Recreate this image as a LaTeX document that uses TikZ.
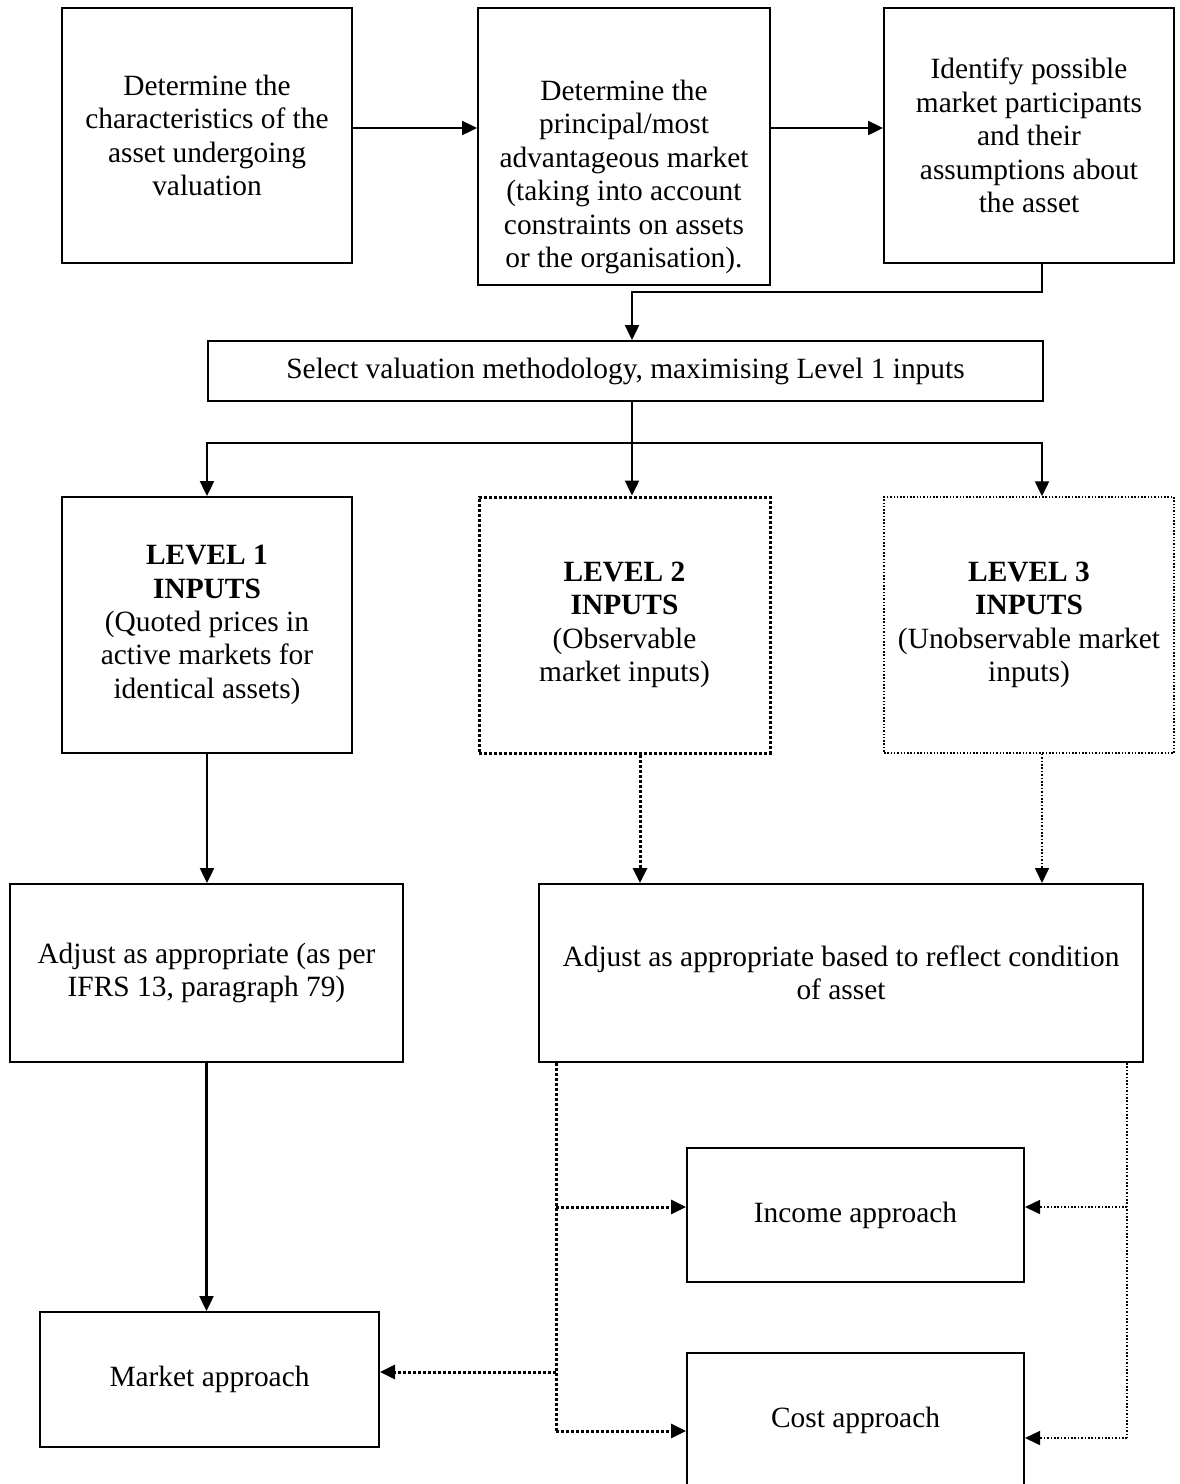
\documentclass[tikz,border=0pt]{standalone}
\usepackage{fontspec}
\setmainfont{Liberation Serif}
\usetikzlibrary{arrows.meta,positioning}

\begin{document}
\begin{tikzpicture}[x=0.5pt,y=-0.5pt,>={Triangle[length=7.5pt,width=7pt]},
txt/.style={align=center, inner sep=0pt, font=\fontsize{14.7}{16.7}\selectfont},
box/.style={txt, draw, line width=1pt},
dotbox/.style={box, line width=1.5pt, dash pattern=on 1.5pt off 1pt},
thinbox/.style={box, line width=0.75pt, dash pattern=on 0.75pt off 0.9pt},
line/.style={line width=1.2pt},
dotline/.style={line width=1.5pt, dash pattern=on 1.5pt off 1pt},
thinline/.style={line width=0.8pt, dash pattern=on 0.8pt off 0.9pt}]
\useasboundingbox (0,0) rectangle (1179,1484);

\node[box, minimum width=145pt, minimum height=127.5pt] (s1) at (207,135.5) {Determine the\\characteristics of the\\asset undergoing\\valuation};
\node[box, minimum width=146pt, minimum height=138.5pt] (s2) at (624,146.5) {};
\node[txt] (s2t) at (624,177) {Determine the\\principal/most\\advantageous market\\(taking into account\\constraints on assets\\or the organisation).};
\node[box, minimum width=145pt, minimum height=127.5pt] (s3) at (1029,135.5) {Identify possible\\market participants\\and their\\assumptions about\\the asset};
\node[box, minimum width=417.5pt, minimum height=30pt] (s4) at (625.5,371) {Select valuation methodology, maximising Level 1 inputs};
\node[box, minimum width=145pt, minimum height=128pt] (s5) at (207,625) {\textbf{LEVEL 1}\\\textbf{INPUTS}\\(Quoted prices in\\active markets for\\identical assets)};
\node[dotbox, minimum width=145.5pt, minimum height=128pt] (s6) at (624.5,625) {\textbf{LEVEL 2}\\\textbf{INPUTS}\\(Observable\\market inputs)};
\node[thinbox, minimum width=145pt, minimum height=128pt] (s7) at (1029,625) {\textbf{LEVEL 3}\\\textbf{INPUTS}\\(Unobservable market\\inputs)};
\node[box, minimum width=196.5pt, minimum height=89pt] (s8) at (206.5,973) {Adjust as appropriate (as per\\IFRS 13, paragraph 79)};
\node[box, minimum width=302pt, minimum height=89pt] (s9) at (841,973) {Adjust as appropriate based to reflect condition\\of asset};
\node[box, minimum width=169.5pt, minimum height=67.5pt] (s10) at (209.5,1379.5) {Market approach};
\node[box, minimum width=168.5pt, minimum height=67pt] (s11) at (855.5,1215) {Income approach};
\node[box, minimum width=168.5pt, minimum height=67pt] (s12) at (855.5,1420) {Cost approach};

% junctions
\coordinate (k1) at (1042,292);
\coordinate (k2) at (632,443);
\coordinate (b0) at (556,1207);
\coordinate (b1) at (556,1372);
\coordinate (b2) at (556,1431);
\coordinate (c0) at (1127,1207);
\coordinate (c1) at (1127,1438);

\draw[line,->] ([yshift=3.75pt]s1.east) -- ([yshift=3.75pt]s1.east -| s2.west);
\draw[line,->] ([yshift=9.25pt]s2.east) -- ([yshift=9.25pt]s2.east -| s3.west);
\draw[line,->] (s3.south -| k1) -- (k1) -| (s4.north -| k2);
\draw[line] (s4.south -| k2) -- (k2);
\draw[line,->] (k2) -| (s5.north);
\draw[line,->] (k2) -- (s6.north -| k2);
\draw[line,->] (k2) -| (s7.north -| k1);

\draw[line,->] (s5.south) -- (s5.south |- s8.north);
\draw[dotline,->] ([xshift=7.75pt]s6.south) -- ([xshift=7.75pt]s6.south |- s9.north);
\draw[thinline,->] (s7.south -| k1) -- (s9.north -| k1);
\draw[line,->] (s8.south) -- (s8.south |- s10.north);

\draw[dotline] (s9.south -| b0) -- (b2);
\draw[dotline,->] (b0) -- (b0 -| s11.west);
\draw[dotline,->] (b1) -- (b1 -| s10.east);
\draw[dotline,->] (b2) -- (b2 -| s12.west);
\draw[thinline] (s9.south -| c0) -- (c1);
\draw[thinline,->] (c0) -- (c0 -| s11.east);
\draw[thinline,->] (c1) -- (c1 -| s12.east);
\end{tikzpicture}
\end{document}
